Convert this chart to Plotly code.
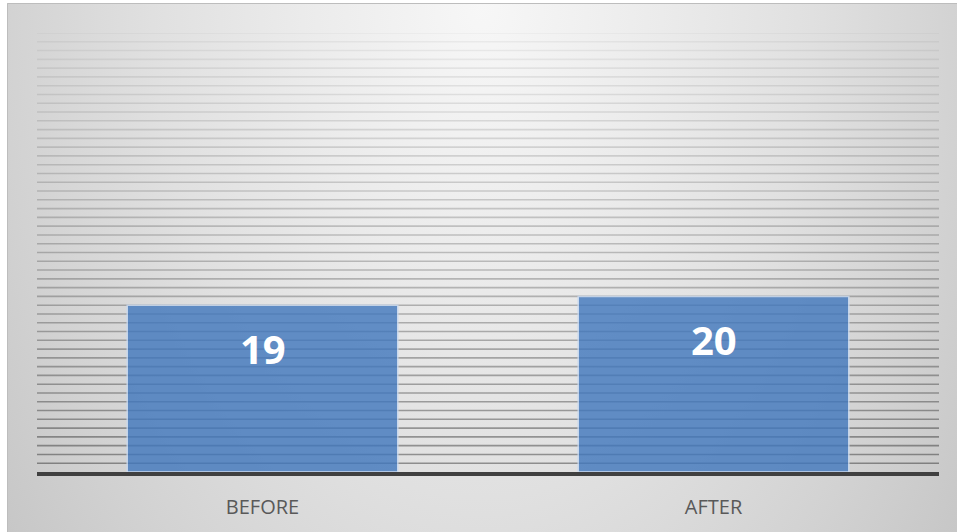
import base64
import plotly.graph_objects as go

# Chart data
categories = ["BEFORE", "AFTER"]
scores = [19, 20]
y_max = 50
grid_values = list(range(1, y_max + 1))

W, H = 957, 532

# Soft radial backdrop (light at top centre, darker towards the corners)
svg = f"""<svg xmlns='http://www.w3.org/2000/svg' width='950' height='529' viewBox='0 0 950 529' preserveAspectRatio='none'>
<defs>
<radialGradient id='g' gradientUnits='userSpaceOnUse' cx='475' cy='0' r='600'
 gradientTransform='translate(475 0) scale(1 1.5) translate(-475 0)'>
<stop offset='0' stop-color='#f7f7f7'/>
<stop offset='0.3' stop-color='#ebebeb'/>
<stop offset='0.55' stop-color='#e0e0e0'/>
<stop offset='0.8' stop-color='#d2d2d2'/>
<stop offset='1' stop-color='#c6c6c6'/>
</radialGradient>
</defs>
<rect x='0' y='0' width='950' height='529' fill='url(#g)'/>
<path d='M0.5 529 L0.5 0.5 L950 0.5' fill='none' stroke='#bdbdbd' stroke-width='1'/>
</svg>"""
bg_uri = "data:image/svg+xml;base64," + base64.b64encode(svg.encode()).decode()

fig = go.Figure()

fig.add_trace(go.Bar(
    x=categories,
    y=scores,
    width=0.6,
    marker=dict(color="rgb(64,119,189)", opacity=0.8,
                line=dict(color="rgb(200,218,242)", width=1.5)),
    hoverinfo="x+y",
))

# Value labels inside the top of each bar
for cat, val in zip(categories, scores):
    fig.add_annotation(x=cat, y=val, text=f"<b>{val}</b>", showarrow=False,
                       yanchor="top", yshift=-14,
                       font=dict(family="Open Sans", size=40, color="white"))

# Striped gridlines, fading out towards the top
shapes = []
for v in grid_values:
    a = 0.38 - 0.34 * (v / y_max)
    shapes.append(dict(type="line", xref="x domain", yref="y", x0=0, x1=1,
                       y0=v, y1=v, layer="below",
                       line=dict(color=f"rgba(0,0,0,{a:.3f})", width=1.6)))

fig.update_layout(
    width=W, height=H,
    margin=dict(l=37, r=18, t=33, b=60, autoexpand=False),
    paper_bgcolor="white",
    plot_bgcolor="rgba(0,0,0,0)",
    showlegend=False,
    shapes=shapes,
    images=[dict(source=bg_uri, xref="paper", yref="paper",
                 x=-30 / 902, y=1 + 30 / 439, sizex=950 / 902, sizey=529 / 439,
                 xanchor="left", yanchor="top", sizing="stretch", layer="below")],
    bargap=0.4,
    xaxis=dict(showgrid=False, showline=True, linecolor="#404040", linewidth=3.5,
               ticks="", ticklabelstandoff=14, automargin=False,
               tickfont=dict(family="Open Sans", size=20, color="#595959"),
               fixedrange=True),
    yaxis=dict(range=[0, y_max], showgrid=False, zeroline=False,
               showticklabels=False, automargin=False, fixedrange=True),
)

fig.write_html("out.html")
